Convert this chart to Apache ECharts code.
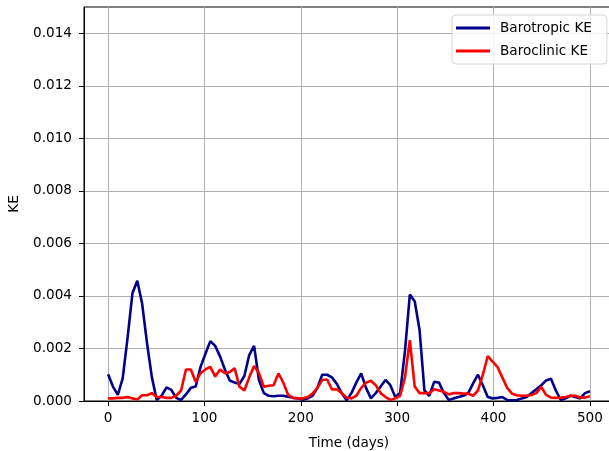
<!DOCTYPE html>
<html>
<head>
<meta charset="utf-8">
<script src="https://cdn.jsdelivr.net/npm/echarts@6/dist/echarts.min.js"></script>
<style>
  html, body { margin: 0; padding: 0; background: #fff; overflow: hidden; }
  #chart { width: 609px; height: 451px; }
</style>
</head>
<body>
<div id="chart"></div>
<script>
// Kinetic energy time series, 100 samples over 500 days
const barotropicKE = [
  0.00102, 0.00055, 0.00023, 0.00086, 0.0024, 0.0041, 0.00458, 0.0037, 0.0022, 0.0009,
  0.00004, 0.0002, 0.00052, 0.00042, 0.00012, 0.00004, 0.00025, 0.0005, 0.00055, 0.0013,
  0.0018, 0.00228, 0.0021, 0.0017, 0.0012, 0.00078, 0.0007, 0.00065, 0.00095, 0.00175,
  0.0021, 0.0008, 0.0003, 0.0002, 0.00018, 0.0002, 0.0002, 0.00016, 0.00012, 0.0001,
  0.00005, 0.0001, 0.0002, 0.0005, 0.001, 0.001, 0.0009, 0.00065, 0.0003, 0.00003,
  0.0003, 0.0007, 0.00105, 0.0005, 0.0001, 0.0003, 0.00055, 0.0008, 0.0006, 0.00015,
  0.0003, 0.0019, 0.00405, 0.0038, 0.0027, 0.0004, 0.0002, 0.00073, 0.0007, 0.0003,
  0.00004, 0.0001, 0.00015, 0.0002, 0.0003, 0.00067, 0.001, 0.0006, 0.00015, 0.0001,
  0.00012, 0.00015, 0.00004, 0.00003, 0.00004, 0.0001, 0.00015, 0.0003, 0.00045, 0.0006,
  0.00078, 0.00085, 0.0004, 0.00004, 0.0001, 0.0002, 0.00015, 0.0001, 0.0003, 0.00037
];
const baroclinicKE = [
  0.0001, 0.0001, 0.00012, 0.00012, 0.00015, 0.0001, 0.00006, 0.00022, 0.00022, 0.0003,
  0.00015, 0.00015, 0.00012, 0.00012, 0.0002, 0.0004, 0.0012, 0.0012, 0.00073, 0.00106,
  0.0012, 0.0013, 0.00093, 0.0012, 0.00106, 0.0011, 0.00125, 0.00054, 0.0004, 0.0009,
  0.00133, 0.00106, 0.00054, 0.00058, 0.0006, 0.00105, 0.0007, 0.00023, 0.00012, 0.0001,
  0.0001, 0.00015, 0.00028, 0.0005, 0.0008, 0.00082, 0.00044, 0.00045, 0.0003, 0.00013,
  0.0001, 0.0002, 0.0005, 0.0007, 0.00077, 0.0006, 0.0003, 0.00015, 0.00004, 0.0001,
  0.0002, 0.0009, 0.00232, 0.00055, 0.0003, 0.0003, 0.0003, 0.00045, 0.0004, 0.00035,
  0.00025, 0.0003, 0.0003, 0.00028, 0.00028, 0.0002, 0.0004, 0.001, 0.00171, 0.0015,
  0.0013, 0.0009, 0.0005, 0.00028, 0.00022, 0.0002, 0.0002, 0.00023, 0.0003, 0.00054,
  0.00023, 0.00013, 0.00012, 0.00013, 0.00015, 0.0002, 0.0002, 0.00013, 0.00013, 0.00018
];
const xTicks = [0, 100, 200, 300, 400, 500];
const yTicks = [0, 0.002, 0.004, 0.006, 0.008, 0.010, 0.012, 0.014];

// evenly spaced sample times from day 0 to day 500
const days = barotropicKE.map((_, i) => i * 500 / (barotropicKE.length - 1));
const pairs = vals => vals.map((v, i) => [days[i], v]);

const FONT = 'DejaVu Sans';
const FS = 13.6;
const chart = echarts.init(document.getElementById('chart'), null, { renderer: 'canvas' });

chart.setOption({
  animation: false,
  backgroundColor: '#fff',
  grid: {
    // the axes box runs a little past the right edge of the canvas
    left: 84, top: 7, width: 530, height: 394,
    outerBoundsMode: 'none', containLabel: false,
    show: true, borderColor: '#000', borderWidth: 1, backgroundColor: 'transparent'
  },
  xAxis: {
    type: 'value', min: -25, max: 525,
    name: 'Time (days)', nameLocation: 'middle', nameGap: 35,
    nameTextStyle: { fontFamily: FONT, fontSize: FS, color: '#000' },
    axisLine: { show: true, onZero: false, lineStyle: { color: '#000', width: 1 } },
    axisTick: { show: true, length: 5, customValues: xTicks, lineStyle: { color: '#000' } },
    axisLabel: { customValues: xTicks, margin: 10, fontFamily: FONT, fontSize: FS, color: '#000' },
    splitLine: { show: true, lineStyle: { color: '#b0b0b0', width: 1 } }
  },
  yAxis: {
    type: 'value', min: 0, max: 0.015,
    name: 'KE', nameLocation: 'middle', nameGap: 63,
    nameTextStyle: { fontFamily: FONT, fontSize: FS, color: '#000' },
    axisLine: { show: true, onZero: false, lineStyle: { color: '#000', width: 1 } },
    axisTick: { show: true, length: 5, customValues: yTicks, lineStyle: { color: '#000' } },
    axisLabel: {
      customValues: yTicks, margin: 12, fontFamily: FONT, fontSize: FS, color: '#000',
      formatter: v => v.toFixed(3)
    },
    splitLine: { show: true, lineStyle: { color: '#b0b0b0', width: 1 } }
  },
  legend: {
    orient: 'vertical', left: 452, top: 15,
    icon: 'rect', itemWidth: 34, itemHeight: 3, itemGap: 7,
    padding: [5, 15, 5, 4],
    backgroundColor: 'rgba(255,255,255,0.85)',
    borderColor: '#d6d6d6', borderWidth: 1, borderRadius: 4,
    textStyle: { fontFamily: FONT, fontSize: FS, color: '#000', lineHeight: 16, padding: [0, 0, 0, 5] },
    data: ['Barotropic KE', 'Baroclinic KE']
  },
  series: [
    {
      name: 'Barotropic KE', type: 'line', data: pairs(barotropicKE),
      symbol: 'none', color: '#00008b',
      lineStyle: { width: 2.6, color: '#00008b' }
    },
    {
      name: 'Baroclinic KE', type: 'line', data: pairs(baroclinicKE),
      symbol: 'none', color: '#ff0000',
      lineStyle: { width: 2.6, color: '#ff0000' }
    }
  ]
});
</script>
</body>
</html>
